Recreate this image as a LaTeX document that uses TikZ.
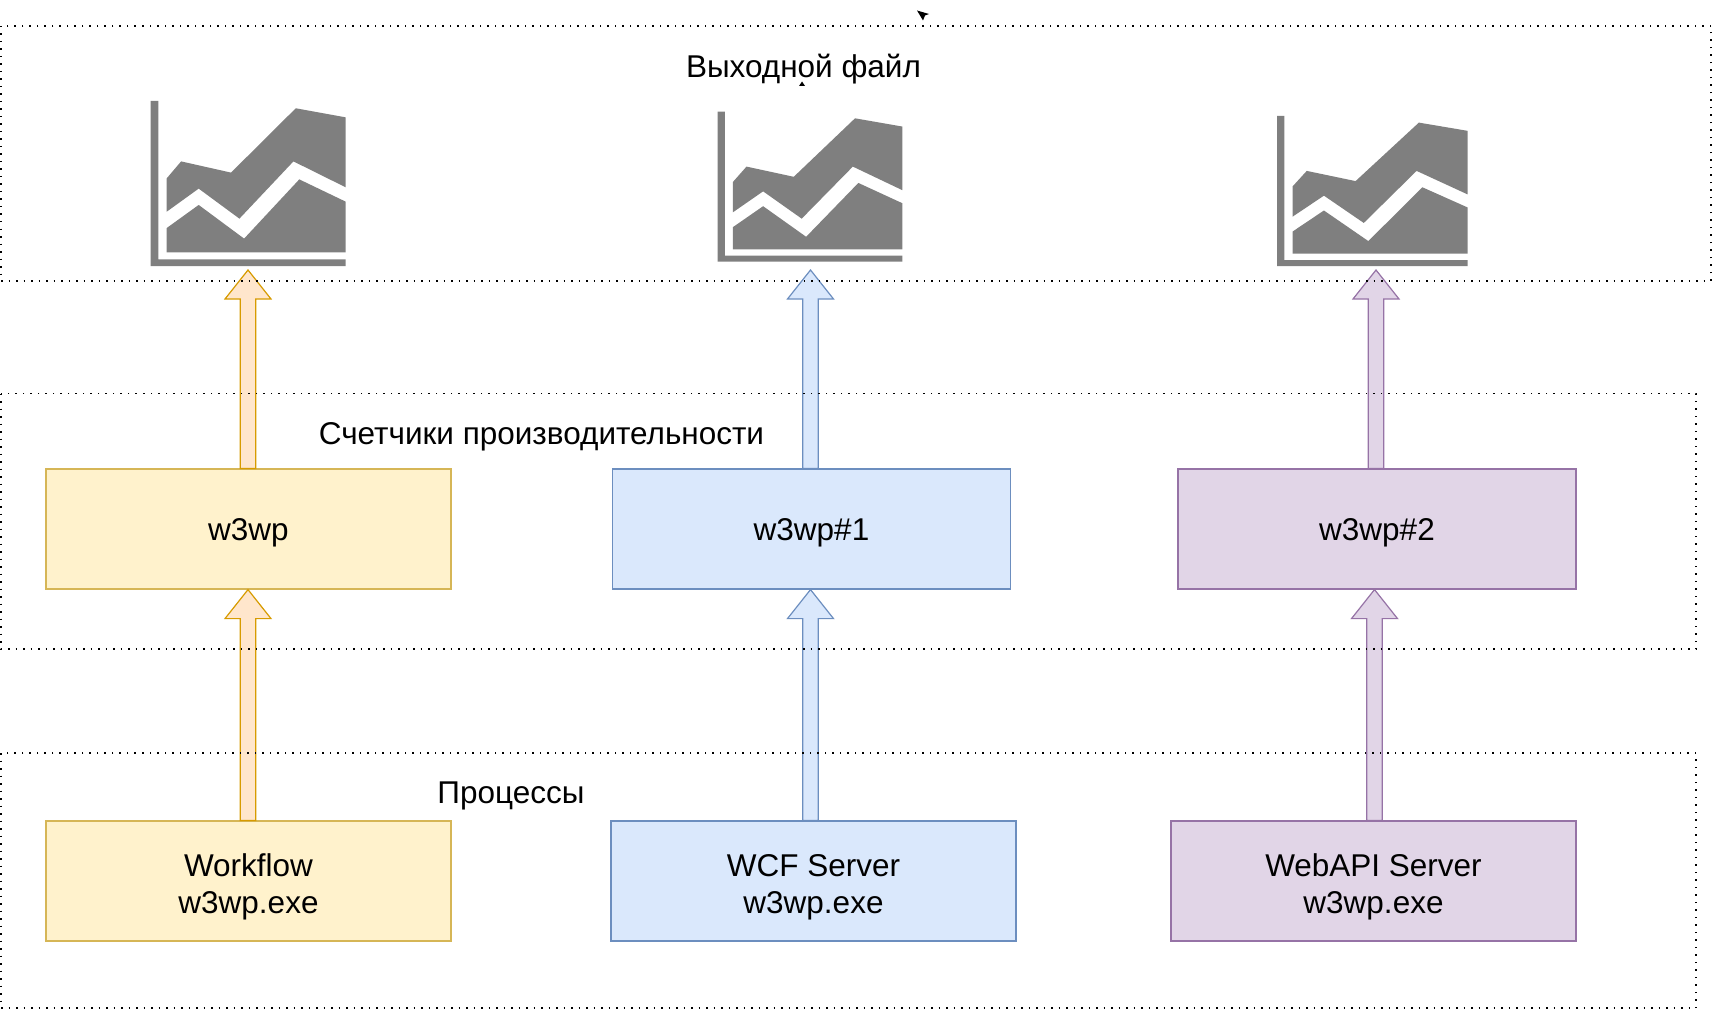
\documentclass[tikz,border=0pt]{standalone}
\usepackage{fontspec}
\setmainfont{Liberation Sans}
\usetikzlibrary{calc}
\definecolor{wfill}{HTML}{FFF2CC}
\definecolor{wdraw}{HTML}{D6B656}
\definecolor{oarrow}{HTML}{FFE6CC}
\definecolor{odraw}{HTML}{D79B00}
\definecolor{bfill}{HTML}{DAE8FC}
\definecolor{bdraw}{HTML}{6C8EBF}
\definecolor{pfill}{HTML}{E1D5E7}
\definecolor{pdraw}{HTML}{9673A6}
\definecolor{chartgray}{HTML}{7F7F7F}

\begin{document}
\begin{tikzpicture}[
  x=1pt,y=-1pt,
  box/.style={draw=#1,line width=1.2pt,align=center,inner sep=0pt,text depth=0pt,
    minimum height=120pt,font=\fontsize{31.5}{37}\selectfont},
  procbox/.style={box=#1,text height=64pt,minimum width=405pt},
  label/.style={font=\fontsize{31.5}{37}\selectfont,inner sep=0pt},
  frame/.style={draw=black,line width=1.4pt,dash pattern=on 1.5pt off 6pt},
  blockarr/.style 2 args={draw=#1,fill=#2,line width=1.2pt,line join=miter,
    to path={let \p1=(\tikztostart),\p2=(\tikztotarget) in
      (\x1-7.7pt,\y1) -- (\x1-7.7pt,\y2-29pt) -- (\x1-23pt,\y2-29pt) -- (\x1,\y2)
      -- (\x1+23pt,\y2-29pt) -- (\x1+7.7pt,\y2-29pt) -- (\x1+7.7pt,\y1) -- cycle}},
]
\useasboundingbox (0,0) rectangle (1713,1011);

% ---- Bottom row: processes ----
\node[procbox=wdraw,fill=wfill] (wf) at (248.5,881) {Workflow\\w3wp.exe};
\node[procbox=bdraw,fill=bfill] (wcf) at (813.5,881) {WCF Server\\w3wp.exe};
\node[procbox=pdraw,fill=pfill] (webapi) at (1373.5,881) {WebAPI Server\\w3wp.exe};

% ---- Middle row: counters ----
\node[box=wdraw,fill=wfill,minimum width=405pt] (cnt) at (248.5,529) {w3wp};
\node[box=bdraw,fill=bfill,minimum width=398pt] (cntA) at (811.5,529) {w3wp\#1};
\node[box=pdraw,fill=pfill,minimum width=398pt] (cntB) at (1377,529) {w3wp\#2};

% ---- Top row: charts ----
\foreach \n/\cx/\cy/\cw/\ch in {chartW/150.7/101/195/165,chartA/717.7/111.7/184.6/150,chartB/1277/116/190.7/150}{
  \begin{scope}[shift={(\cx,\cy)},xscale=\cw,yscale=\ch]
    \fill[chartgray] (0,0) -- (.039,0) -- (.039,.96) -- (1,.96) -- (1,1) -- (0,1) -- cycle;
    \fill[chartgray] (.082,.469) -- (.156,.366) -- (.412,.434) -- (.744,.044) -- (1,.099)
      -- (1,.523) -- (.732,.366) -- (.455,.713) -- (.246,.531) -- (.082,.671) -- cycle;
    \fill[chartgray] (.082,.77) -- (.246,.63) -- (.479,.834) -- (.762,.475) -- (1,.61)
      -- (1,.917) -- (.082,.917) -- cycle;
  \end{scope}
}
\coordinate (tipW) at (248,270);
\coordinate (tipA) at (810.7,270);
\coordinate (tipB) at (1376,270);

% ---- Arrows ----
\draw[blockarr={odraw}{oarrow}] ([xshift=-.5pt]wf.north) to ([xshift=-.5pt]cnt.south);
\draw[blockarr={odraw}{oarrow}] ([xshift=-.5pt]cnt.north) to (tipW);
\draw[blockarr={bdraw}{bfill}] ([xshift=-3pt]wcf.north) to ([xshift=-3pt]wcf.north |- cntA.south);
\draw[blockarr={bdraw}{bfill}] ([xshift=-1pt]cntA.north) to (tipA);
\draw[blockarr={pdraw}{pfill}] ([xshift=1pt]webapi.north) to ([xshift=1pt]webapi.north |- cntB.south);
\draw[blockarr={pdraw}{pfill}] ([xshift=-1pt]cntB.north) to (tipB);

% ---- Dotted frames ----
\draw[frame] (1,26) rectangle (1711,281);
\draw[frame] (1,393.5) rectangle (1696,649);
\draw[frame] (1,753) rectangle (1696,1008);

% ---- Labels ----
\node[label] (lblOut) at (803.5,69) {Выходной файл};
\node[label] (lblCnt) at (541.5,436.5) {Счетчики производительности};
\node[label] (lblProc) at (511,796) {Процессы};

% ---- Stray marks ----
\fill (917,10.5) -- (929,14) -- (925,15.5) -- (923,20.5) -- cycle;
\fill (802,81.5) -- (805,86) -- (799,86) -- cycle;
\end{tikzpicture}
\end{document}
